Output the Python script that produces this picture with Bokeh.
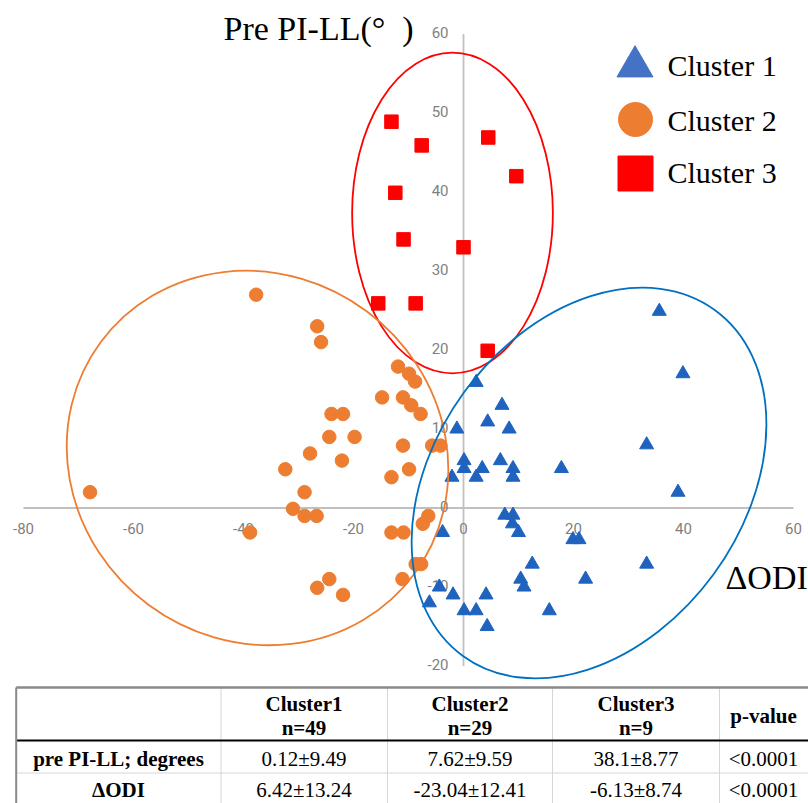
import numpy as np
from bokeh.plotting import figure
from bokeh.layouts import column
from bokeh.models import Range1d
from bokeh.core.properties import value
from bokeh.embed import file_html
from bokeh.resources import INLINE

# ---------------- data ----------------
x_ticks = [-80, -60, -40, -20, 0, 20, 40, 60]
y_ticks = [-20, -10, 0, 10, 20, 30, 40, 50, 60]

# Cluster 1 (triangles): x = ΔODI, y = Pre PI-LL
c1_x = [35.6, 39.9, 2.3, 7.0, 4.4, -1.2, 8.3, 33.3, 0.1, 6.7, 0.1, 3.4, 9.0, 17.8,
        -2.1, 2.3, 9.0, 39.0, 7.5, 9.0, 8.9, 10.0, -3.8, 19.9, 21.0, 12.5, 33.3,
        10.4, 22.2, 11.0, -4.4, -1.9, 4.1, -6.2, 0.1, 2.3, 15.6, 4.3]
c1_y = [24.9, 17.0, 15.9, 13.0, 10.9, 10.0, 10.0, 8.0, 6.0, 6.0, 5.0, 5.0, 5.0, 5.0,
        3.9, 3.9, 3.9, 2.0, -0.9, -0.9, -2.0, -3.1, -3.1, -4.0, -4.0, -7.1, -7.1,
        -9.0, -9.0, -10.0, -10.0, -11.0, -11.0, -12.0, -13.0, -13.0, -13.0, -15.0]

# Cluster 2 (circles)
c2_x = [-37.7, -26.6, -25.9, -11.9, -9.9, -8.8, -14.8, -11.0, -9.5, -7.8, -24.0, -21.9,
        -24.4, -19.8, -11.0, -5.7, -4.2, -27.9, -22.1, -32.4, -9.9, -13.1, -67.9, -28.9,
        -31.0, -28.9, -26.7, -6.4, -7.4, -38.8, -13.1, -10.9, -8.7, -7.7, -11.1, -24.4,
        -26.6, -21.9]
c2_y = [27.0, 23.0, 21.0, 17.9, 17.0, 16.0, 14.0, 14.0, 13.0, 11.9, 11.9, 11.9,
        9.0, 9.0, 7.9, 7.9, 7.9, 6.9, 6.0, 4.9, 4.9, 3.9, 2.0, 2.0,
        -0.1, -1.0, -1.0, -1.0, -2.0, -3.1, -3.1, -3.1, -7.1, -7.1, -9.0, -9.0,
        -10.1, -11.0]

# Cluster 3 (squares)
c3_x = [-13.1, -7.6, 4.5, 9.6, -12.4, -10.9, 0.0, -15.5, -8.7, 4.4]
c3_y = [48.9, 45.9, 46.9, 42.0, 39.9, 34.0, 33.0, 25.9, 25.9, 19.9]

# cluster ellipses: centre (data), width / height (data units), angle (deg)
ell_x = [-2.0, -37.45, 22.82]
ell_y = [37.34, 6.33, 3.16]
ell_w = [36.5, 70.9, 77.8]
ell_h = [40.6, 46.3, 39.1]
ell_angle = [0.0, -36.5, 53.9]
ell_color = ["#FF0000", "#ED7D31", "#0070C0"]

legend_labels = ["Cluster 1", "Cluster 2", "Cluster 3"]

# table
table_headers = ["Cluster1", "Cluster2", "Cluster3"]
table_n = ["n=49", "n=29", "n=9"]
row_labels = ["pre PI-LL; degrees", "ΔODI"]
row_pill = ["0.12±9.49", "7.62±9.59", "38.1±8.77", "<0.0001"]
row_odi = ["6.42±13.24", "-23.04±12.41", "-6.13±8.74", "<0.0001"]

# ---------------- layout ----------------
W = 808
MAIN_H = 684
TABLE_H = 119
XPX = 5.5
YPX = 7.9
X0_PX = 463.0
Y0_PX = 507.5
x_start = -X0_PX / XPX
x_end = x_start + W / XPX
y_end = Y0_PX / YPX
y_start = y_end - MAIN_H / YPX


def dx(px):
    return x_start + px / XPX


def dy(py):
    return y_end - py / YPX


SERIF = value("Liberation Serif")
SANS = value("Roboto")

p = figure(width=W, height=MAIN_H, x_range=Range1d(x_start, x_end),
           y_range=Range1d(y_start, y_end), output_backend="svg",
           toolbar_location=None, min_border=0,
           x_axis_location=None, y_axis_location=None)
p.grid.visible = False
p.outline_line_color = None
p.background_fill_color = "white"
p.border_fill_color = "white"

# axis lines crossing at the origin
p.segment(x0=[x_ticks[0], 0], y0=[0, y_ticks[0]], x1=[x_ticks[-1], 0], y1=[0, y_ticks[-1]],
          line_color="#c0c0c0", line_width=1.8)

# tick labels
p.text(x=x_ticks, y=[0] * len(x_ticks), text=[str(v) for v in x_ticks],
       y_offset=20, text_align="center", text_baseline="middle",
       text_font=SANS, text_font_size="15px", text_color="#7f7f7f")
p.text(x=[0] * len(y_ticks), y=y_ticks, text=[str(v) for v in y_ticks],
       x_offset=-15, y_offset=-2, text_align="right", text_baseline="middle",
       text_font=SANS, text_font_size="15px", text_color="#7f7f7f")

# points
p.scatter(c2_x, c2_y, marker="circle", size=13.5, fill_color="#ED7D31", line_color="#ED7D31")
p.scatter(c3_x, c3_y, marker="square", size=13.5, fill_color="#FF0000", line_color="#FF0000")
p.scatter(c1_x, c1_y, marker="triangle", size=14, fill_color="#1F63BF", line_color="#1F63BF")

# ellipses
p.ellipse(x=ell_x, y=ell_y, width=ell_w, height=ell_h, angle=list(np.radians(ell_angle)),
          fill_color=None, line_color=ell_color, line_width=1.8)

# axis titles
p.text(x=[dx(223)], y=[dy(28)], text=["Pre PI-LL(°\u2002)"], text_align="left",
       text_baseline="middle", text_font=SERIF, text_font_size="34px", text_color="black")
p.text(x=[dx(725)], y=[dy(577)], text=["ΔODI"], text_align="left",
       text_baseline="middle", text_font=SERIF, text_font_size="34px", text_color="black")

# legend
p.scatter(x=[dx(634.5)], y=[dy(66)], marker="triangle", size=36, fill_color="#4472C4", line_color="#4472C4")
p.scatter(x=[dx(635)], y=[dy(119)], marker="circle", size=34, fill_color="#ED7D31", line_color="#ED7D31")
p.scatter(x=[dx(635)], y=[dy(173)], marker="square", size=35, fill_color="#FF0000", line_color="#FF0000")
p.text(x=[dx(667)] * 3, y=[dy(65), dy(120), dy(172)], text=legend_labels, text_align="left",
       text_baseline="middle", text_font=SERIF, text_font_size="30px", text_color="black")

# ---------------- table ----------------
T0 = 684
t = figure(width=W, height=TABLE_H, x_range=Range1d(0, W), y_range=Range1d(TABLE_H, 0),
           output_backend="svg", toolbar_location=None, min_border=0,
           x_axis_location=None, y_axis_location=None)
t.grid.visible = False
t.outline_line_color = None
t.background_fill_color = "white"
t.border_fill_color = "white"

left = 15.7
col_lines = [220.5, 387, 552, 719]
col_centers = [118, 303.5, 469.5, 635.5, 763]
y_top = 687 - T0
y_head = 740 - T0
y_div = 772.5 - T0

t.segment(x0=col_lines, y0=[y_top] * 4, x1=col_lines, y1=[TABLE_H] * 4,
          line_color="#d6d6d6", line_width=1)
t.segment(x0=[left], y0=[y_div], x1=[W], y1=[y_div], line_color="#d6d6d6", line_width=1)
t.segment(x0=[left], y0=[y_head], x1=[W], y1=[y_head], line_color="black", line_width=2)
t.segment(x0=[left], y0=[y_top], x1=[W], y1=[y_top], line_color="#8a8a8a", line_width=2.5)
t.segment(x0=[left], y0=[y_top], x1=[left], y1=[TABLE_H], line_color="#8a8a8a", line_width=2)

BOLD = dict(text_align="center", text_baseline="middle", text_font=SERIF,
            text_font_style="bold", text_font_size="21px", text_color="black")
REG = dict(text_align="center", text_baseline="middle", text_font=SERIF,
           text_font_size="21px", text_color="black")

t.text(x=col_centers[1:4], y=[703 - T0] * 3, text=table_headers, **BOLD)
t.text(x=col_centers[1:4], y=[727 - T0] * 3, text=table_n, **BOLD)
t.text(x=[col_centers[4]], y=[715 - T0], text=["p-value"], **BOLD)
t.text(x=[col_centers[0]] * 2, y=[758 - T0, 789 - T0], text=row_labels, **BOLD)
t.text(x=col_centers[1:], y=[758 - T0] * 4, text=row_pill, **REG)
t.text(x=col_centers[1:], y=[789 - T0] * 4, text=row_odi, **REG)

layout = column(p, t, spacing=0)
open("out.html", "w").write(file_html(layout, INLINE))
